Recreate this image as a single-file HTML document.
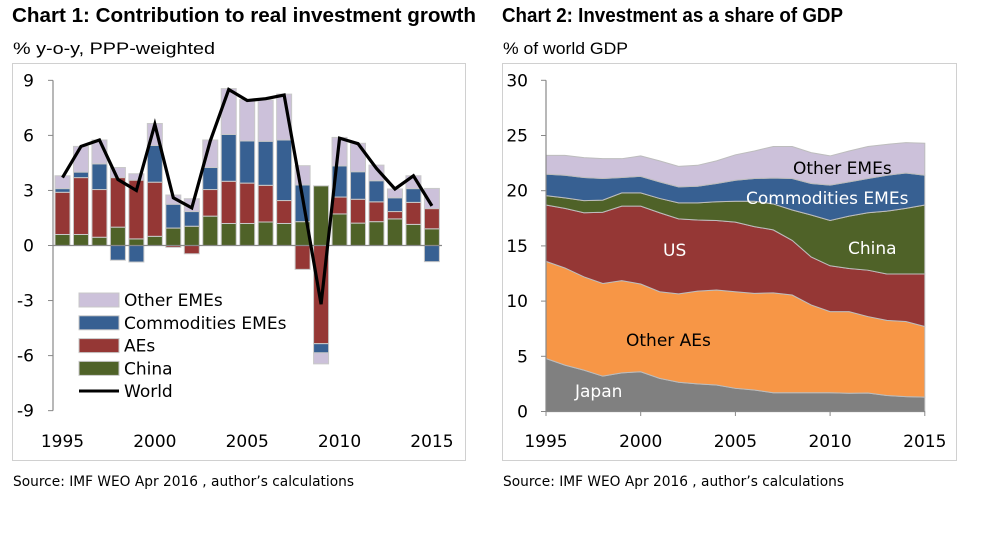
<!DOCTYPE html>
<html><head><meta charset="utf-8"><style>
body{margin:0;background:#fff;width:1000px;height:542px;overflow:hidden;font-family:"Liberation Sans",sans-serif}
svg{display:block}
.c{font-family:"DejaVu Sans","Liberation Sans",sans-serif}
</style></head><body>
<svg id="svg" width="1000" height="542">
<text x="12" y="22" font-size="20" font-weight="bold" textLength="464" lengthAdjust="spacingAndGlyphs">Chart 1: Contribution to real investment growth</text>
<text x="502" y="22" font-size="20" font-weight="bold" textLength="341" lengthAdjust="spacingAndGlyphs">Chart 2: Investment as a share of GDP</text>
<text x="13" y="54" font-size="17" textLength="202" lengthAdjust="spacingAndGlyphs">% y-o-y, PPP-weighted</text>
<text x="503" y="54" font-size="17" textLength="125" lengthAdjust="spacingAndGlyphs">% of world GDP</text>
<rect x="12.5" y="63.5" width="453" height="397" fill="none" stroke="#d0d0d0"/>
<rect x="502.5" y="63.5" width="454" height="397" fill="none" stroke="#d0d0d0"/>
<text x="13" y="486" font-size="14" class="c" textLength="341" lengthAdjust="spacingAndGlyphs">Source: IMF WEO Apr 2016 , author’s calculations</text>
<text x="503" y="486" font-size="14" class="c" textLength="341" lengthAdjust="spacingAndGlyphs">Source: IMF WEO Apr 2016 , author’s calculations</text>
<g id="c1"></g><g id="c2"></g>
</svg>
<script>
const years=[1995,1996,1997,1998,1999,2000,2001,2002,2003,2004,2005,2006,2007,2008,2009,2010,2011,2012,2013,2014,2015];
const china1=[0.6,0.6,0.45,1.0,0.36,0.5,0.95,1.05,1.6,1.2,1.2,1.28,1.2,1.3,3.25,1.72,1.22,1.3,1.45,1.15,0.91];
const aes1=[2.3,3.1,2.6,2.7,3.2,2.95,-0.1,-0.45,1.45,2.3,2.2,2.0,1.25,-1.3,-5.35,0.92,1.3,1.08,0.4,1.2,1.1];
const comm1=[0.2,0.3,1.4,-0.8,-0.9,2.0,1.3,0.8,1.2,2.55,2.3,2.4,3.3,2.0,-0.5,1.7,1.5,1.15,0.75,0.75,-0.88];
const other1=[0.7,1.4,1.3,0.55,0.35,1.2,0.5,0.7,1.5,2.5,2.25,2.25,2.5,1.05,-0.6,1.55,1.55,0.85,0.48,0.7,1.1];
const world1=[3.7,5.4,5.75,3.6,3.0,6.6,2.6,2.05,5.7,8.5,7.9,8.0,8.2,2.6,-3.2,5.85,5.55,4.2,3.08,3.8,2.16];
const yTicks1=[9,6,3,0,-3,-6,-9];
const xTicks=[1995,2000,2005,2010,2015];
const japan2=[4.8,4.2,3.75,3.2,3.5,3.6,3.0,2.65,2.5,2.4,2.1,1.95,1.7,1.7,1.7,1.7,1.65,1.68,1.45,1.35,1.3];
const otherAEs2=[8.8,8.8,8.45,8.4,8.35,7.95,7.85,8.0,8.4,8.6,8.75,8.75,9.05,8.85,7.95,7.35,7.4,6.92,6.8,6.8,6.4];
const us2=[5.1,5.4,5.8,6.45,6.75,7.05,7.15,6.8,6.45,6.3,6.3,6.05,5.7,4.95,4.35,4.15,3.9,4.2,4.2,4.3,4.75];
const china2=[0.85,0.95,1.1,1.1,1.2,1.2,1.3,1.45,1.55,1.7,1.9,2.3,2.35,2.75,3.8,4.1,4.75,5.2,5.7,5.95,6.25];
const comm2=[1.95,2.05,2.1,1.95,1.4,1.5,1.5,1.45,1.5,1.65,1.9,2.05,2.35,2.85,2.85,3.2,3.1,3.1,3.25,3.2,2.7];
const otherEMEs2=[1.7,1.8,1.8,1.8,1.7,1.85,1.9,1.85,1.9,2.05,2.3,2.5,2.85,2.9,2.8,2.65,2.8,2.9,2.8,2.75,2.9];
const yTicks2=[30,25,20,15,10,5,0];
const NS='http://www.w3.org/2000/svg';
function mk(tag,attrs,parent,txt){const e=document.createElementNS(NS,tag);for(const k in attrs)e.setAttribute(k,attrs[k]);if(txt!==undefined)e.textContent=txt;parent.appendChild(e);return e;}
const C_OTH='#ccc1da',C_COM='#376092',C_AE='#953735',C_CH='#4f6228',C_OAE='#f79646',C_JP='#808080';
const g1=document.getElementById('c1');
const x1=y=>62.5+(y-1995)*18.47;
const y1=v=>245.5-v*18.35;
yTicks1.forEach(t=>{
  const tk=mk('line',{x1:48,x2:53,y1:y1(t),y2:y1(t),stroke:'#888'},g1);
  
  
  const lb=mk('text',{x:34,y:y1(t)+6,'font-size':17,'text-anchor':'end',class:'c'},g1,String(t));
  
  
});
const ax=mk('line',{x1:53,x2:53,y1:y1(9),y2:y1(-9),stroke:'#888','stroke-width':1.2},g1);


xTicks.forEach(t=>{
  const lb=mk('text',{x:x1(t),y:447,'font-size':17,'text-anchor':'middle',class:'c'},g1,String(t));
  
  
});
const series1=[[china1,C_CH,'china'],[aes1,C_AE,'aes'],[comm1,C_COM,'commodities-emes'],[other1,C_OTH,'other-emes']];
years.forEach((yr,i)=>{
  let pos=0,neg=0;
  series1.forEach(([arr,col,nm])=>{
    const v=arr[i];let a,b;
    if(v>=0){a=pos;b=pos+v;pos=b;}else{a=neg;b=neg+v;neg=b;}
    const top=Math.min(y1(a),y1(b)),h=Math.abs(y1(a)-y1(b));
    const r=mk('rect',{x:x1(yr)-7.5,y:top,width:15,height:h,fill:col,stroke:'#c8c8c8','stroke-width':1},g1);
    
    
  });
});
const zl=mk('line',{x1:53,x2:442,y1:y1(0),y2:y1(0),stroke:'#888','stroke-width':1.2},g1);


const wl=mk('polyline',{points:years.map((y,i)=>x1(y)+','+y1(world1[i])).join(' '),fill:'none',stroke:'#000','stroke-width':3.2,'stroke-linejoin':'miter'},g1);


const leg=[['Other EMEs',C_OTH],['Commodities EMEs',C_COM],['AEs',C_AE],['China',C_CH]];
leg.forEach(([t,c],i)=>{
  const yy=300+i*22.8;
  const s=mk('rect',{x:79,y:yy-7,width:40,height:14,fill:c,stroke:'#c8c8c8'},g1);
  
  
  const tx=mk('text',{x:124,y:yy+6,'font-size':17,class:'c'},g1,t);
  
  
});
const lw=mk('line',{x1:79,x2:119,y1:391,y2:391,stroke:'#000','stroke-width':3},g1);


const lwt=mk('text',{x:124,y:397,'font-size':17,class:'c'},g1,'World');


const g2=document.getElementById('c2');
const x2=y=>546+(y-1995)*18.94;
const y2=v=>411.5-v*11.04;
const layers=[[japan2,C_JP,'japan'],[otherAEs2,C_OAE,'other-aes'],[us2,C_AE,'us'],[china2,C_CH,'china'],[comm2,C_COM,'commodities-emes'],[otherEMEs2,C_OTH,'other-emes']];
let base=years.map(()=>0);
layers.forEach(([arr,col,nm])=>{
  const top=base.map((b,i)=>b+arr[i]);
  const pts=years.map((y,i)=>x2(y)+','+y2(top[i])).concat(years.slice().reverse().map((y,j)=>{const i=years.length-1-j;return x2(y)+','+y2(base[i]);}));
  const p=mk('polygon',{points:pts.join(' '),fill:col,stroke:'#bdbdbd','stroke-width':1},g2);
  
  
  base=top;
});
yTicks2.forEach(t=>{
  const tk=mk('line',{x1:541,x2:546,y1:y2(t),y2:y2(t),stroke:'#888'},g2);
  
  
  const lb=mk('text',{x:528,y:y2(t)+6,'font-size':17,'text-anchor':'end',class:'c'},g2,String(t));
  
  
});
const a2=mk('line',{x1:546,x2:546,y1:y2(30),y2:y2(0),stroke:'#888','stroke-width':1.2},g2);


const b2=mk('line',{x1:546,x2:925,y1:y2(0),y2:y2(0),stroke:'#888','stroke-width':1.2},g2);


xTicks.forEach(t=>{
  const tk=mk('line',{x1:x2(t),x2:x2(t),y1:411.5,y2:416,stroke:'#888'},g2);
  
  
  const lb=mk('text',{x:x2(t),y:447,'font-size':17,'text-anchor':'middle',class:'c'},g2,String(t));
  
  
});
const labs=[['Japan',575,397,'#fff'],['Other AEs',626,346,'#000'],['US',663,256,'#fff'],['China',848,254,'#fff'],['Commodities EMEs',746,204,'#fff'],['Other EMEs',793,174,'#000']];
labs.forEach(([t,x,y,c])=>{
  const l=mk('text',{x:x,y:y,'font-size':17,fill:c,class:'c'},g2,t);
  
  
});
</script>
</body></html>
